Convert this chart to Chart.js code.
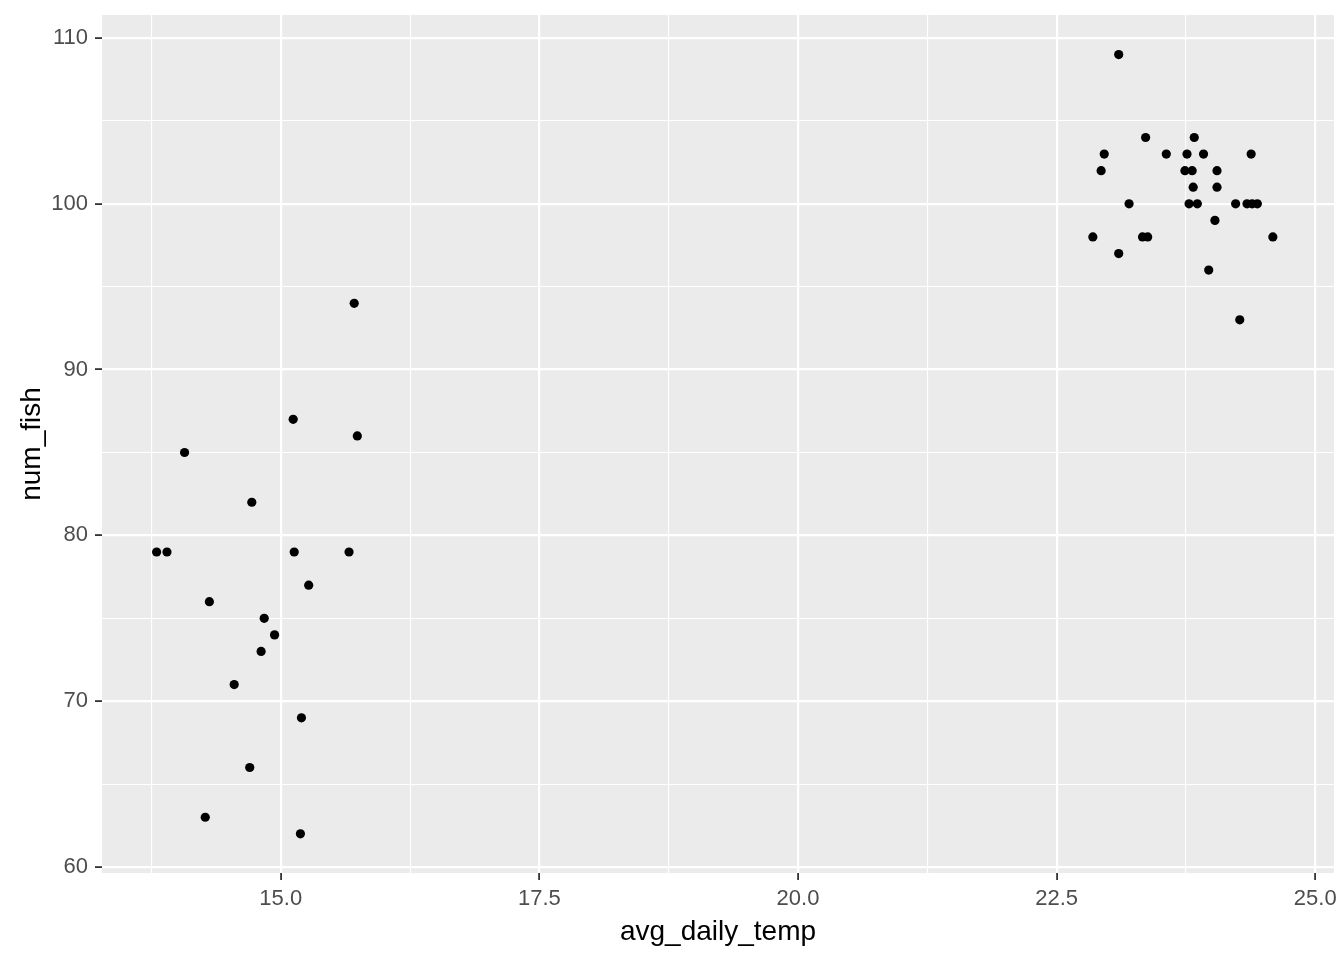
<!DOCTYPE html>
<html>
<head>
<meta charset="utf-8">
<script src="https://cdn.jsdelivr.net/npm/chart.js@4"></script>
<style>
  html, body { margin: 0; padding: 0; background: #ffffff; }
  #chart { display: block; }
</style>
</head>
<body>
<canvas id="chart" width="1344" height="960"></canvas>
<script>
// values
const avgDailyTemp = [
    13.80, 13.90, 14.07, 14.27, 14.31, 14.55, 14.70, 14.72, 14.81, 14.84,
    14.94, 15.12, 15.13, 15.19, 15.20, 15.27, 15.66, 15.71, 15.74,
    22.85, 22.93, 22.96, 23.10, 23.10, 23.20, 23.33, 23.36, 23.38, 23.56,
    23.74, 23.76, 23.78, 23.81, 23.82, 23.83, 23.86, 23.92, 23.97, 24.03,
    24.05, 24.05, 24.23, 24.27, 24.34, 24.38, 24.39, 24.44, 24.59
];
const numFish = [
    79, 79, 85, 63, 76, 71, 66, 82, 73, 75,
    74, 87, 79, 62, 69, 77, 79, 94, 86,
    98, 102, 103, 109, 97, 100, 98, 104, 98, 103,
    102, 103, 100, 102, 101, 104, 100, 103, 96, 99,
    102, 101, 100, 93, 100, 103, 100, 100, 98
];
const xMajorStep = 2.5;
const yMajorStep = 10;

const points = avgDailyTemp.map((t, i) => ({ x: t, y: numFish[i] }));

function isMajor(value, step) {
    const r = value / step;
    return Math.abs(r - Math.round(r)) < 1e-6;
}

const panelBackground = {
    id: 'panelBackground',
    beforeDraw(chart) {
        const { ctx, chartArea } = chart;
        ctx.save();
        ctx.fillStyle = '#EBEBEB';
        ctx.fillRect(chartArea.left, chartArea.top, chartArea.right - chartArea.left, chartArea.bottom - chartArea.top);
        ctx.restore();
    }
};

const tickFont = { family: '"Liberation Sans", Arial, sans-serif', size: 22 };
const titleFont = { family: '"Liberation Sans", Arial, sans-serif', size: 28 };

function gridFor(step) {
    return {
        color: '#FFFFFF',
        lineWidth: (c) => (c.tick && isMajor(c.tick.value, step) ? 2.2 : 1.1),
        tickColor: (c) => (c.tick && isMajor(c.tick.value, step) ? '#333333' : 'rgba(0,0,0,0)'),
        tickWidth: 1.8,
        tickLength: 7,
        drawTicks: true
    };
}

new Chart(document.getElementById('chart').getContext('2d'), {
    type: 'scatter',
    data: {
        datasets: [{
            data: points,
            backgroundColor: '#000000',
            borderWidth: 0,
            pointRadius: 4.6,
            pointHoverRadius: 4.6
        }]
    },
    options: {
        responsive: false,
        animation: false,
        devicePixelRatio: 1,
        layout: { padding: { top: 15, right: 10, left: 0, bottom: 0 } },
        plugins: { legend: { display: false }, tooltip: { enabled: false } },
        scales: {
            x: {
                type: 'linear',
                min: 13.272,
                max: 25.181,
                border: { display: false },
                grid: gridFor(xMajorStep),
                ticks: {
                    stepSize: 1.25,
                    includeBounds: false,
                    autoSkip: false,
                    maxRotation: 0,
                    padding: 6,
                    color: '#4D4D4D',
                    font: tickFont,
                    callback: (v) => (isMajor(v, xMajorStep) ? v.toFixed(1) : '')
                },
                title: {
                    display: true,
                    text: 'avg_daily_temp',
                    color: '#000000',
                    font: titleFont,
                    padding: { top: 0, bottom: 11 }
                },
                afterFit: (s) => {
                    s.height = 87;
                    s.paddingLeft = 0;
                    s.paddingRight = 0;
                }
            },
            y: {
                type: 'linear',
                min: 59.638,
                max: 111.387,
                border: { display: false },
                grid: gridFor(yMajorStep),
                ticks: {
                    stepSize: 5,
                    includeBounds: false,
                    autoSkip: false,
                    padding: 7,
                    color: '#4D4D4D',
                    font: tickFont,
                    callback: (v) => (isMajor(v, yMajorStep) ? String(v) : '')
                },
                title: {
                    display: true,
                    text: 'num_fish',
                    color: '#000000',
                    font: titleFont,
                    padding: { top: 15, bottom: 0 }
                },
                afterFit: (s) => {
                    s.width = 102;
                    s.paddingTop = 0;
                    s.paddingBottom = 0;
                }
            }
        }
    },
    plugins: [panelBackground]
});
</script>
</body>
</html>
